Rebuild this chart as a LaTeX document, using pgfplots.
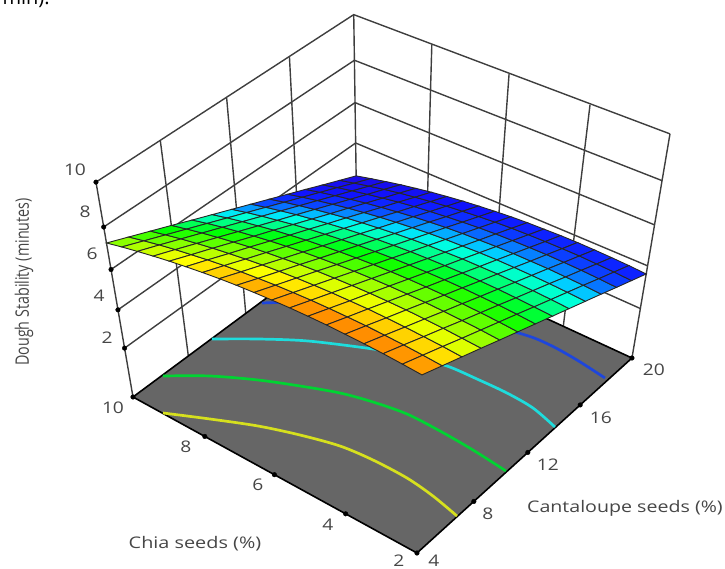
\documentclass[border=0pt]{standalone}
\usepackage{fontspec}
\setmainfont{Open Sans}
\usepackage{pgfplots}
\pgfplotsset{compat=1.18}
\definecolor{floorc}{RGB}{102,102,102}
\definecolor{wallc}{RGB}{62,62,62}
\definecolor{txt}{RGB}{70,70,70}
\definecolor{cy}{RGB}{214,224,30}
\definecolor{cg}{RGB}{0,212,50}
\definecolor{cc}{RGB}{30,220,220}
\definecolor{cb}{RGB}{30,70,220}
\pgfplotsset{
  table/proj/.style={row sep=\\,
    x expr={px(\thisrow{u},\thisrow{v},wz(\thisrow{z}))},
    y expr={py(\thisrow{u},\thisrow{v},wz(\thisrow{z}))},
    z expr=0},
  table/gridproj/.style={row sep=\\,
    x expr={px(floor((\coordindex+0.5)/14)/18,(\coordindex-14*floor((\coordindex+0.5)/14))/13,wz(\thisrow{z}))},
    y expr={py(floor((\coordindex+0.5)/14)/18,(\coordindex-14*floor((\coordindex+0.5)/14))/13,wz(\thisrow{z}))},
    z expr=0},
  table/pix/.style={row sep=\\,z expr=0},
  wall/.style={no marks,draw=wallc,line width=1.4pt},
  edge/.style={no marks,draw=black,line width=1.6pt},
  cont/.style={no marks,line width=2.7pt,smooth},
}
\newcommand{\lab}[3]{\node[text=txt,inner sep=0pt,xscale=1.2,font=\fontsize{16}{18}\selectfont] at (axis cs:#1,#2,0) {#3};}
\begin{document}
\begin{tikzpicture}[declare function={
    wz(\zz)=0.066+0.0934*\zz;
    px(\aa,\bb,\cc)=(-271.74*\aa+283.13*\bb-54.03*\cc+417)/(1+0.0922*\aa+0.1078*\bb-0.1418*\cc);
    py(\aa,\bb,\cc)=(-119.4*\aa-156.4*\bb-260.5*\cc+553)/(1+0.0922*\aa+0.1078*\bb-0.1418*\cc);
  }]
\clip (0,0) rectangle (725pt,569pt);
\begin{axis}[
  scale only axis,width=725pt,height=569pt,
  xmin=0,xmax=725,ymin=0,ymax=569,zmin=-1,zmax=1,
  y dir=reverse,view={0}{90},axis lines=none,clip=false,
  colormap={ds}{rgb255(0pt)=(30,10,225);rgb255(15pt)=(15,20,255);rgb255(22pt)=(10,70,255);rgb255(29pt)=(0,225,255);rgb255(31pt)=(0,255,225);rgb255(41pt)=(0,255,0);rgb255(55pt)=(255,255,0);rgb255(63pt)=(255,110,0)},
  point meta min=2.3,point meta max=8.6,
]
% walls: horizontal levels
\addplot3[wall] table[proj] {u v z\\1 0 2\\1 1 2\\0 1 2\\};
\addplot3[wall] table[proj] {u v z\\1 0 4\\1 1 4\\0 1 4.2\\};
\addplot3[wall] table[proj] {u v z\\1 0 6\\1 1 6\\0 1 6.2\\};
\addplot3[wall] table[proj] {u v z\\1 0 8\\1 1 8\\0 1 8.25\\};
\addplot3[wall] table[proj] {u v z\\1 0 10\\1 1 10.05\\0 1 10.3\\};
% walls: vertical lines
\addplot3[wall] table[proj] {u v z\\1 0 -0.7066\\1 0 10\\};
\addplot3[wall] table[proj] {u v z\\1 0.23 -0.7066\\1 0.23 10\\};
\addplot3[wall] table[proj] {u v z\\1 0.48 -0.7066\\1 0.48 10\\};
\addplot3[wall] table[proj] {u v z\\1 0.73 -0.7066\\1 0.73 10\\};
\addplot3[wall] table[proj] {u v z\\1 1 -0.7066\\1 1 10.05\\};
\addplot3[wall] table[proj] {u v z\\0.735 1 -0.7066\\0.735 1 10.1\\};
\addplot3[wall] table[proj] {u v z\\0.485 1 -0.7066\\0.485 1 10.15\\};
\addplot3[wall] table[proj] {u v z\\0.235 1 -0.7066\\0.235 1 10.2\\};
\addplot3[wall] table[proj] {u v z\\0 1 -0.7066\\0 1 10.3\\};
% floor
\addplot3[edge,fill=floorc] table[proj] {u v z\\0 0 -0.7066\\1 0 -0.7066\\1 1 -0.7066\\0 1 -0.7066\\0 0 -0.7066\\};
% contours on the floor, in picture coordinates
\addplot3[cont,draw=cy] table[pix] {x y\\163 413\\210 419\\258 426\\300 435\\340 446\\373 460\\407 478\\433 496\\457 516\\};
\addplot3[cont,draw=cg] table[pix] {x y\\163 376\\210 376\\258 380\\300 386\\340 393\\373 402\\407 414\\440 431\\473 450\\506 471\\};
\addplot3[cont,draw=cc] table[pix] {x y\\212 339\\258 339\\308 341\\373 349\\410 356\\447 366\\477 379\\507 393\\533 408\\555 427\\};
\addplot3[cont,draw=cb] table[pix] {x y\\262 303\\320 302\\385 307\\450 316\\522 334\\550 345\\577 360\\605 378\\};
% tick dots
\addplot3[only marks,mark=*,mark size=2.3pt,black] table[proj] {u v z\\1 0 2\\1 0 4\\1 0 6\\1 0 8\\1 0 10\\1 0 -0.7066\\0.73 0 -0.7066\\0.48 0 -0.7066\\0.235 0 -0.7066\\0 0 -0.7066\\0 0.245 -0.7066\\0 0.49 -0.7066\\0 0.74 -0.7066\\0 1 -0.7066\\};
% response surface
\addplot3[surf,shader=faceted,faceted color=black!85,line width=0.9pt,mesh/rows=19,mesh/cols=14,point meta=\thisrow{z}]
 table[gridproj] {z\\
8.49\\8.13\\7.77\\7.41\\7.04\\6.68\\6.32\\5.96\\5.60\\5.24\\4.88\\4.51\\4.15\\3.79\\
8.54\\8.18\\7.82\\7.45\\7.09\\6.73\\6.37\\6.00\\5.64\\5.28\\4.92\\4.55\\4.19\\3.83\\
8.58\\8.22\\7.85\\7.49\\7.12\\6.76\\6.40\\6.03\\5.67\\5.31\\4.94\\4.58\\4.21\\3.85\\
8.60\\8.24\\7.87\\7.51\\7.14\\6.78\\6.41\\6.05\\5.68\\5.32\\4.96\\4.59\\4.23\\3.86\\
8.61\\8.25\\7.88\\7.52\\7.15\\6.78\\6.42\\6.05\\5.69\\5.32\\4.95\\4.59\\4.22\\3.86\\
8.61\\8.24\\7.88\\7.51\\7.14\\6.77\\6.41\\6.04\\5.67\\5.31\\4.94\\4.57\\4.20\\3.84\\
8.59\\8.22\\7.85\\7.49\\7.12\\6.75\\6.38\\6.01\\5.65\\5.28\\4.91\\4.54\\4.17\\3.80\\
8.56\\8.19\\7.82\\7.45\\7.08\\6.71\\6.34\\5.97\\5.60\\5.23\\4.86\\4.50\\4.13\\3.76\\
8.51\\8.14\\7.77\\7.40\\7.03\\6.66\\6.29\\5.92\\5.55\\5.18\\4.81\\4.44\\4.07\\3.70\\
8.45\\8.08\\7.71\\7.34\\6.96\\6.59\\6.22\\5.85\\5.48\\5.11\\4.74\\4.36\\3.99\\3.62\\
8.38\\8.00\\7.63\\7.26\\6.88\\6.51\\6.14\\5.77\\5.39\\5.02\\4.65\\4.27\\3.90\\3.53\\
8.29\\7.91\\7.54\\7.16\\6.79\\6.41\\6.04\\5.67\\5.29\\4.92\\4.55\\4.17\\3.80\\3.43\\
8.18\\7.81\\7.43\\7.06\\6.68\\6.31\\5.93\\5.56\\5.18\\4.81\\4.43\\4.06\\3.68\\3.31\\
8.06\\7.69\\7.31\\6.94\\6.56\\6.18\\5.81\\5.43\\5.06\\4.68\\4.30\\3.93\\3.55\\3.18\\
7.93\\7.55\\7.18\\6.80\\6.42\\6.05\\5.67\\5.29\\4.91\\4.54\\4.16\\3.78\\3.41\\3.03\\
7.78\\7.41\\7.03\\6.65\\6.27\\5.89\\5.51\\5.14\\4.76\\4.38\\4.00\\3.62\\3.25\\2.87\\
7.62\\7.25\\6.87\\6.49\\6.11\\5.73\\5.35\\4.97\\4.59\\4.21\\3.83\\3.45\\3.07\\2.69\\
7.45\\7.07\\6.69\\6.31\\5.93\\5.55\\5.17\\4.79\\4.41\\4.03\\3.65\\3.27\\2.88\\2.50\\
7.26\\6.88\\6.50\\6.12\\5.73\\5.35\\4.97\\4.59\\4.21\\3.83\\3.45\\3.06\\2.68\\2.30\\
};
% tick labels
\lab{75}{170}{10}\lab{85}{212}{8}\lab{92}{254}{6}\lab{99}{296}{4}\lab{107}{338}{2}
\lab{113}{408}{10}\lab{186}{447}{8}\lab{258}{485}{6}\lab{328}{525}{4}\lab{399}{561}{2}
\lab{434}{561}{4}\lab{488}{514}{8}\lab{548}{465}{12}\lab{601}{418}{16}\lab{654}{370}{20}
\node[text=txt,xscale=1.24,font=\fontsize{16}{18}\selectfont] at (axis cs:195,544,0) {Chia seeds (\%)};
\node[text=txt,xscale=1.225,font=\fontsize{16}{18}\selectfont] at (axis cs:625,508,0) {Cantaloupe seeds (\%)};
\node[text=txt,xscale=1.3,font=\fontsize{14.3}{18}\selectfont,rotate=90] at (axis cs:24,282,0) {Dough Stability (minutes)};
\node[text=black,font=\fontsize{20}{22}\selectfont,anchor=base west] at (axis cs:-1,5,0) {min):};
\end{axis}
\end{tikzpicture}
\end{document}
